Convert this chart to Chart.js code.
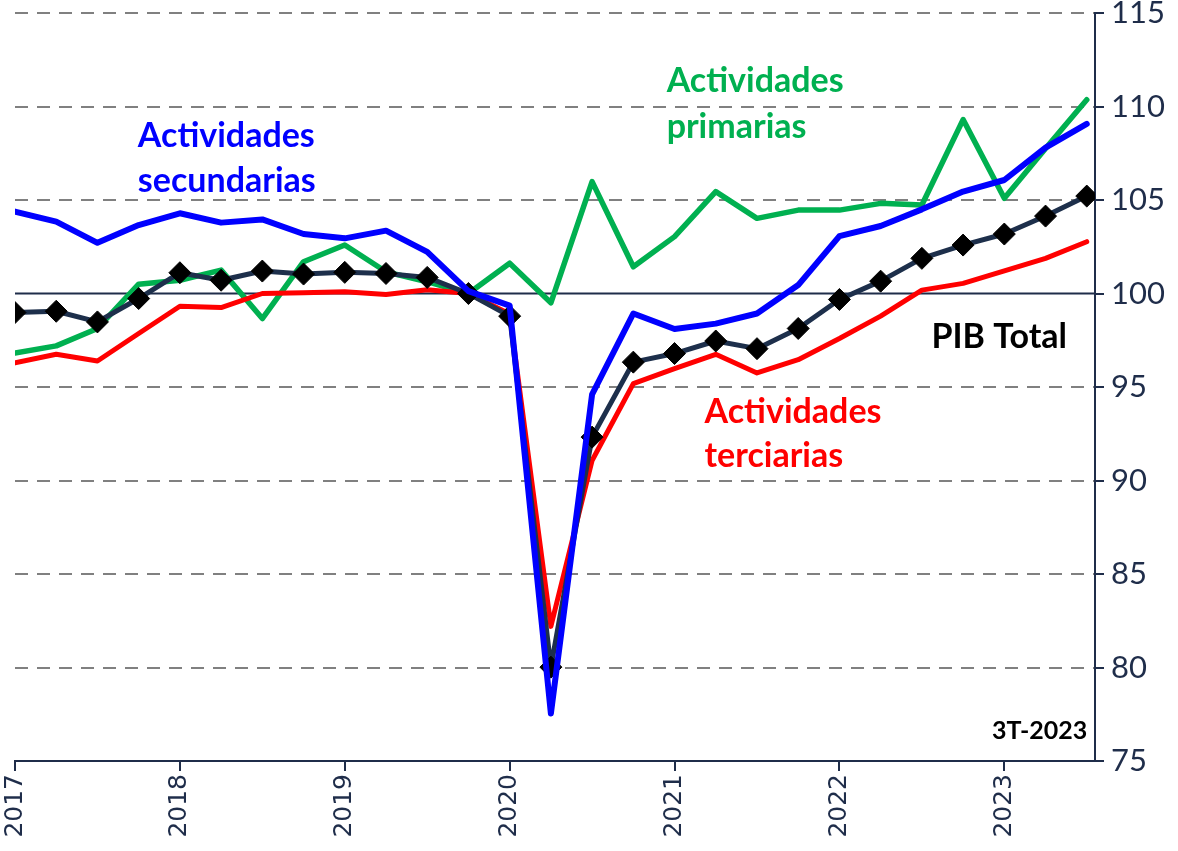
<!DOCTYPE html>
<html>
<head>
<meta charset="utf-8">
<script src="https://cdn.jsdelivr.net/npm/chart.js@4"></script>
<style>
  body { margin: 0; background: #fff; }
</style>
</head>
<body>
<canvas id="myChart" width="1178" height="851"></canvas>
<script>
// quarterly index values, 2017 T1 .. 2023 T3
const quarters = [
    '2017T1', '2017T2', '2017T3', '2017T4',
    '2018T1', '2018T2', '2018T3', '2018T4',
    '2019T1', '2019T2', '2019T3', '2019T4',
    '2020T1', '2020T2', '2020T3', '2020T4',
    '2021T1', '2021T2', '2021T3', '2021T4',
    '2022T1', '2022T2', '2022T3', '2022T4',
    '2023T1', '2023T2', '2023T3'
];
const pibTotal = [
    98.98, 99.05, 98.48, 99.73,
    101.11, 100.71, 101.20, 101.04,
    101.13, 101.07, 100.86, 100.00,
    98.79, 80.02, 92.32, 96.33,
    96.79, 97.46, 97.05, 98.13,
    99.68, 100.66, 101.88, 102.59,
    103.18, 104.14, 105.21
];
const secundarias = [
    104.38, 103.84, 102.71, 103.66,
    104.29, 103.79, 103.96, 103.18,
    102.95, 103.36, 102.23, 100.13,
    99.35, 77.54, 94.60, 98.93,
    98.10, 98.39, 98.93, 100.45,
    103.07, 103.61, 104.50, 105.45,
    106.07, 107.80, 109.07
];
const primarias = [
    96.82, 97.20, 98.13, 100.50,
    100.71, 101.25, 98.66, 101.70,
    102.59, 101.16, 100.63, 100.00,
    101.62, 99.50, 105.98, 101.43,
    103.04, 105.45, 104.02, 104.46,
    104.46, 104.82, 104.73, 109.30,
    105.09, 107.75, 110.36
];
const terciarias = [
    96.29, 96.75, 96.39, 97.86,
    99.32, 99.25, 100.00, 100.04,
    100.09, 99.95, 100.20, 100.00,
    98.90, 82.20, 91.07, 95.18,
    95.98, 96.75, 95.75, 96.46,
    97.59, 98.79, 100.18, 100.54,
    101.21, 101.88, 102.77
];
const years = [2017, 2018, 2019, 2020, 2021, 2022, 2023];
const yTicks = [75, 80, 85, 90, 95, 100, 105, 110, 115];

const navy = '#1f2d4a';
const xOf = q => Number(q.slice(0, 4)) + (Number(q.slice(5)) - 1) / 4;
const toPoints = arr => arr.map((v, i) => ({ x: xOf(quarters[i]), y: v }));

// text notes placed in data space
const notes = [
    { lines: ['Actividades', 'secundarias'], x: 2017.745, y: [107.81, 105.45], color: '#0000ff', align: 'left', size: 34 },
    { lines: ['Actividades', 'primarias'], x: 2020.952, y: [110.80, 108.34], color: '#00b050', align: 'left', size: 34 },
    { lines: ['Actividades', 'terciarias'], x: 2021.182, y: [93.10, 90.70], color: '#ff0000', align: 'left', size: 34 },
    { lines: ['PIB Total'], x: 2022.558, y: [97.06], color: '#000000', align: 'left', size: 34 },
    { lines: ['3T-2023'], x: 2023.503, y: [76.15], color: '#000000', align: 'right', size: 25 }
];

const notesPlugin = {
    id: 'notes',
    beforeDatasetsDraw(chart) {
        const { ctx, chartArea, scales } = chart;
        const y = scales.y.getPixelForValue(100);
        ctx.save();
        ctx.strokeStyle = navy;
        ctx.lineWidth = 2;
        ctx.beginPath();
        ctx.moveTo(chartArea.left, y);
        ctx.lineTo(chartArea.right, y);
        ctx.stroke();
        ctx.restore();
    },
    afterDatasetsDraw(chart) {
        const { ctx, scales } = chart;
        ctx.save();
        notes.forEach(n => {
            ctx.font = `bold ${n.size}px Lato, sans-serif`;
            ctx.fillStyle = n.color;
            ctx.textAlign = n.align;
            ctx.textBaseline = 'alphabetic';
            n.lines.forEach((t, i) => {
                ctx.fillText(t, scales.x.getPixelForValue(n.x), scales.y.getPixelForValue(n.y[i]));
            });
        });
        ctx.restore();
    }
};

const ctx = document.getElementById('myChart');

new Chart(ctx, {
    type: 'line',
    data: {
        datasets: [
            {
                label: 'Actividades secundarias',
                data: toPoints(secundarias),
                borderColor: '#0000ff',
                borderWidth: 6,
                pointRadius: 0
            },
            {
                label: 'PIB Total',
                data: toPoints(pibTotal),
                borderColor: '#1d2f4b',
                borderWidth: 5,
                pointStyle: 'rectRot',
                pointRadius: 11,
                pointBackgroundColor: '#000',
                pointBorderColor: '#000',
                pointBorderWidth: 1
            },
            {
                label: 'Actividades terciarias',
                data: toPoints(terciarias),
                borderColor: '#ff0000',
                borderWidth: 5,
                pointRadius: 0
            },
            {
                label: 'Actividades primarias',
                data: toPoints(primarias),
                borderColor: '#00b050',
                borderWidth: 5.5,
                pointRadius: 0
            }
        ]
    },
    options: {
        responsive: false,
        animation: false,
        layout: { padding: { left: 15, top: 13, right: 0, bottom: 0 } },
        elements: {
            line: { tension: 0, borderCapStyle: 'round', borderJoinStyle: 'round' }
        },
        scales: {
            x: {
                type: 'linear',
                min: 2017,
                max: 2023.55,
                afterBuildTicks: s => { s.ticks = years.map(v => ({ value: v })); },
                afterFit: s => { s.height = 90; s.paddingLeft = 0; s.paddingRight = 0; },
                grid: {
                    drawOnChartArea: false,
                    drawTicks: true,
                    tickLength: 10,
                    tickColor: navy,
                    lineWidth: 2
                },
                border: { display: true, color: navy, width: 2 },
                ticks: {
                    autoSkip: false,
                    minRotation: 90,
                    maxRotation: 90,
                    padding: 3,
                    color: navy,
                    font: { family: 'DejaVu Sans', size: 25 },
                    callback: v => String(v)
                }
            },
            y: {
                position: 'right',
                min: 75,
                max: 115,
                afterBuildTicks: s => { s.ticks = yTicks.map(v => ({ value: v })); },
                afterFit: s => { s.width = 83; s.paddingTop = 0; s.paddingBottom = 0; },
                grid: {
                    color: c => (c.tick && c.tick.value === 100) ? 'rgba(0,0,0,0)' : '#808080',
                    lineWidth: 2,
                    drawTicks: true,
                    tickLength: 9,
                    tickColor: navy,
                    tickWidth: 2
                },
                border: { display: true, color: navy, width: 2, dash: [13, 9] },
                ticks: {
                    padding: 7,
                    color: navy,
                    font: { family: 'Lato', size: 31 }
                }
            }
        },
        plugins: {
            legend: { display: false },
            tooltip: { enabled: false }
        }
    },
    plugins: [notesPlugin]
});
</script>
</body>
</html>
